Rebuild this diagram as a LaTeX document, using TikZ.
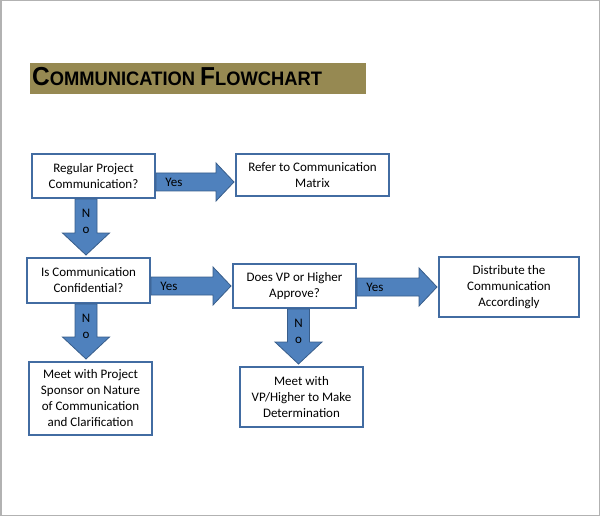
\documentclass[tikz,border=0pt]{standalone}
\usepackage{fontspec}
\setmainfont{Carlito}
\newfontfamily\titlefont[FakeStretch=0.94]{Liberation Sans}
\usetikzlibrary{calc}

\definecolor{bandolive}{RGB}{150,137,82}
\definecolor{boxblue}{RGB}{66,108,162}
\definecolor{arrowblue}{RGB}{79,129,189}
\definecolor{arrowedge}{RGB}{56,93,138}

\tikzset{
	flowbox/.style={draw=boxblue, line width=2pt, fill=white, align=center,
		inner sep=2pt, minimum width=123pt, font=\fontsize{13}{16}\selectfont},
	blockarr/.style={draw=arrowedge, line width=0.8pt, fill=arrowblue},
	arrtext/.style={font=\fontsize{13}{16}\selectfont, inner sep=0pt}
}

% block arrow to the right: from, to, shift of axis, label
\newcommand{\harrow}[4]{%
	\draw[blockarr] let \p1=(#1.east), \p2=(#2.west) in
		(\x1,\y2+#3+9pt) -- (\x2-19pt,\y2+#3+9pt) -- (\x2-19pt,\y2+#3+19pt)
		-- (\x2-1pt,\y2+#3) -- (\x2-19pt,\y2+#3-19pt) -- (\x2-19pt,\y2+#3-9pt)
		-- (\x1,\y2+#3-9pt) -- cycle
		(\x1+9pt,\y2+#3) node[arrtext,anchor=west] (yes-#1) {#4};
}

% block arrow downwards: from, to, shift of axis, label
\newcommand{\varrow}[4]{%
	\draw[blockarr] let \p1=(#1.south), \p2=(#2.north) in
		(\x2+#3-11pt,\y1) -- (\x2+#3-11pt,\y2+24pt) -- (\x2+#3-23.5pt,\y2+24pt)
		-- (\x2+#3,\y2+2pt) -- (\x2+#3+23.5pt,\y2+24pt) -- (\x2+#3+11pt,\y2+24pt)
		-- (\x2+#3+11pt,\y1) -- cycle
		(\x2+#3,\y1-22.5pt) node[arrtext,align=center] (no-#1) {#4};
}

\begin{document}
\begin{tikzpicture}[x=1pt,y=-1pt]
	
	\useasboundingbox (0,0) rectangle (600,516);
	\draw[black!30, line width=1.5pt] (0.75,0.75) rectangle (599.25,515.25);
	
	% Titel
	\fill[bandolive] (30,63) rectangle (366,94);
	\node[anchor=base west, inner sep=0pt] (title) at (32,86)
		{\titlefont\bfseries\fontsize{26}{26}\selectfont C\fontsize{19.5}{20}\selectfont OMMUNICATION
		\fontsize{26}{26}\selectfont F\fontsize{19.5}{20}\selectfont LOWCHART};
	
	% Boxen
	\node[flowbox, minimum height=44pt] (regular) at (93.5,176) {Regular Project\\Communication?};
	\node[flowbox, minimum width=153pt, minimum height=42pt] (matrix) at (312.5,175) {Refer to Communication\\Matrix};
	\node[flowbox, minimum height=45pt] (confid) at (88.5,280.5) {Is Communication\\Confidential?};
	\node[flowbox, minimum height=44pt] (approve) at (294.5,286) {Does VP or Higher\\Approve?};
	\node[flowbox, minimum height=73pt] (sponsor) at (90.5,398.5) {Meet with Project\\Sponsor on Nature\\of Communication\\and Clarification};
	\node[flowbox, minimum width=140pt, minimum height=60pt] (distrib) at (509,287) {Distribute the\\Communication\\Accordingly};
	\node[flowbox, minimum height=60pt] (vpmeet) at (301.5,397) {Meet with\\VP/Higher to Make\\Determination};
	
	% Pfeile
	\harrow{regular}{matrix}{-7pt}{Yes}
	\harrow{confid}{approve}{0pt}{Yes}
	\harrow{approve}{distrib}{0pt}{Yes}
	\varrow{regular}{confid}{-2.5pt}{N\\o}
	\varrow{confid}{sponsor}{-4.5pt}{N\\o}
	\varrow{approve}{vpmeet}{-3pt}{N\\o}
	
\end{tikzpicture}
\end{document}
